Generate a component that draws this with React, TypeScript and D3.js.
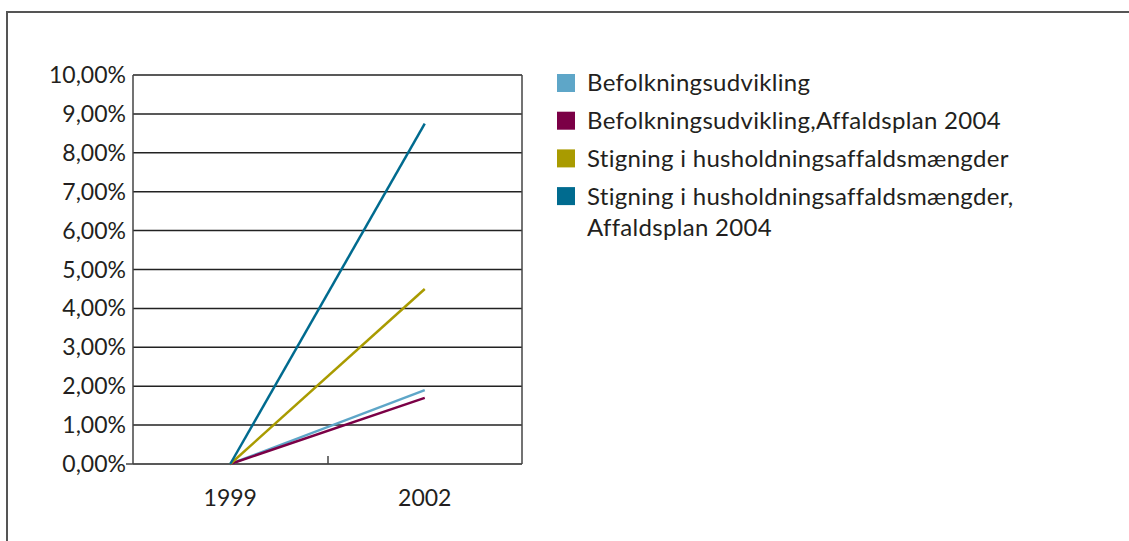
import React from 'react';
import * as d3 from 'd3';

const years = ['1999', '2002'];
const befolkning = [0, 1.9];
const befolkningPlan = [0, 1.7];
const stigning = [0, 4.5];
const stigningPlan = [0, 8.75];
const yTicks = [0, 1, 2, 3, 4, 5, 6, 7, 8, 9, 10];

const series = [
  { name: ['Befolkningsudvikling'], values: befolkning, color: '#5ea6c8' },
  { name: ['Befolkningsudvikling,Affaldsplan 2004'], values: befolkningPlan, color: '#7b0046' },
  { name: ['Stigning i husholdningsaffaldsmængder'], values: stigning, color: '#a99b00' },
  { name: ['Stigning i husholdningsaffaldsmængder,', 'Affaldsplan 2004'], values: stigningPlan, color: '#006b8f' },
];

const W = 1129;
const H = 541;
const font = 'Lato, "Open Sans", sans-serif';

export default function App() {
  const x = d3.scaleBand<string>().domain(years).range([133, 522]);
  const y = d3.scaleLinear().domain([0, 10]).range([464, 75]);
  const line = d3.line<number>()
    .x((_, i) => (x(years[i]) ?? 0) + x.bandwidth() / 2)
    .y(d => y(d));

  let legendY = 83;
  const legendRows = series.map(s => {
    const row = { ...s, y: legendY };
    legendY += 37.7 * s.name.length;
    return row;
  });

  return (
    <svg width={W} height={H} style={{ position: 'absolute', left: 0, top: 0 }}>
      <rect width={W} height={H} fill="#fff" />
      {/* outer frame */}
      <path d={`M7,${H + 5} V12 H${W + 5}`} fill="none" stroke="#555" strokeWidth={2} />

      {/* grid */}
      {yTicks.map(t => (
        <g key={t}>
          <line x1={133} x2={522} y1={y(t)} y2={y(t)} stroke="#222" strokeWidth={1.5} />
          <text x={126} y={y(t)} dy="0.35em" textAnchor="end" fontFamily={font} fontSize={23} fill="#231f20">
            {t.toFixed(2).replace('.', ',')}%
          </text>
        </g>
      ))}
      <line x1={126} x2={133} y1={y(0)} y2={y(0)} stroke="#444" strokeWidth={1.5} />
      <line x1={133} x2={133} y1={75} y2={464} stroke="#444" strokeWidth={1.5} />
      <line x1={522} x2={522} y1={75} y2={464} stroke="#444" strokeWidth={1.5} />
      <line x1={328} x2={328} y1={456} y2={464} stroke="#444" strokeWidth={1.5} />

      {years.map(yr => (
        <text key={yr} x={(x(yr) ?? 0) + x.bandwidth() / 2} y={498} dy="0.35em" textAnchor="middle"
          fontFamily={font} fontSize={23} fill="#231f20">{yr}</text>
      ))}

      {series.map(s => (
        <path key={s.name[0]} d={line(s.values) || ''} fill="none" stroke={s.color} strokeWidth={2.5} />
      ))}

      {/* legend */}
      {legendRows.map(s => (
        <g key={s.name[0]}>
          <rect x={557} y={s.y - 9} width={18} height={18} fill={s.color} />
          {s.name.map((n, i) => (
            <text key={i} x={587} y={s.y + i * 31} dy="0.35em" fontFamily={font} fontSize={24}
              letterSpacing={0.3} fill="#231f20">{n}</text>
          ))}
        </g>
      ))}
    </svg>
  );
}
